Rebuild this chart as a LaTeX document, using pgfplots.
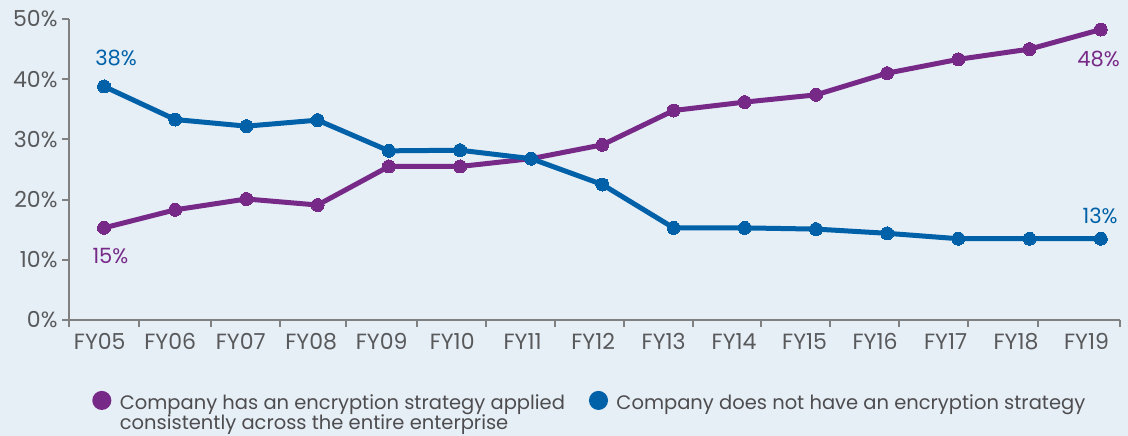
\documentclass[border=0pt]{standalone}
\usepackage{fontspec}
\setmainfont{Poppins}
\usepackage{pgfplots}
\pgfplotsset{compat=1.18}
\definecolor{bg}{RGB}{230,238,246}
\definecolor{cpurple}{RGB}{119,41,136}
\definecolor{cblue}{RGB}{0,97,168}
\definecolor{axgray}{RGB}{128,128,128}
\definecolor{txtgray}{RGB}{88,89,91}
\definecolor{legtxt}{RGB}{77,77,79}
\begin{document}
\begin{tikzpicture}
\fill[bg] (0pt,0pt) rectangle (1128pt,436pt);
\begin{axis}[
  at={(69pt,116pt)}, anchor=south west,
  scale only axis, width=1051pt, height=301pt,
  xmin=-0.492, xmax=14.27, ymin=0, ymax=50,
  clip=false,
  axis lines*=left,
  axis line style={axgray, line width=2pt},
  every tick/.style={axgray, line width=2pt},
  major tick length=7pt,
  tick align=outside,
  ytick={0,10,20,30,40,50},
  yticklabels={0\%,10\%,20\%,30\%,40\%,50\%},
  yticklabel style={font=\fontsize{22}{22}\selectfont, text=txtgray, xshift=-1pt},
  xtick={-0.492,0.492,1.503,2.472,3.399,4.396,5.365,6.334,7.303,8.272,9.228,10.197,11.166,12.135,13.118,14.27},
  xticklabels={},
  extra x ticks={-0.06,0.93,1.92,2.91,3.90,4.89,5.88,6.87,7.86,8.85,9.84,10.83,11.82,12.81,13.80},
  extra x tick labels={FY05,FY06,FY07,FY08,FY09,FY10,FY11,FY12,FY13,FY14,FY15,FY16,FY17,FY18,FY19},
  extra x tick style={major tick length=0pt, xticklabel style={yshift=-10pt}},
  xticklabel style={font=\fontsize{22}{22}\selectfont, text=txtgray},
  legend style={at={(0.022,-0.235)}, anchor=north west, draw=none, fill=none, inner sep=0pt,
    font=\fontsize{19.5}{20}\selectfont, text=legtxt,
    /tikz/every even column/.append style={column sep=22pt},
    nodes={inner sep=2pt}},
  legend columns=2,
  legend cell align=left,
  legend image code/.code={\fill[#1] (5pt,2pt) circle (7pt); \path[draw=none,fill=none] (0pt,0pt) -- (21pt,0pt);},
]
\addplot[cpurple, line width=5pt, mark=*, mark size=6.5pt, mark options={solid, fill=cpurple, draw=cpurple, line width=0pt}]
coordinates {(0,15.3)(1,18.3)(2,20.1)(3,19.1)(4,25.5)(5,25.5)(6,26.8)(7,29.1)(8,34.8)(9,36.2)(10,37.4)(11,41.0)(12,43.3)(13,45.0)(14,48.25)};
\addlegendentry{\begin{tabular}[t]{@{}l@{}}Company has an encryption strategy applied\\[0pt]consistently across the entire enterprise\end{tabular}}
\addplot[cblue, line width=5pt, mark=*, mark size=6.5pt, mark options={solid, fill=cblue, draw=cblue, line width=0pt}]
coordinates {(0,38.8)(1,33.3)(2,32.2)(3,33.2)(4,28.1)(5,28.2)(6,26.8)(7,22.5)(8,15.3)(9,15.3)(10,15.1)(11,14.4)(12,13.5)(13,13.5)(14,13.5)};
\addlegendentry{Company does not have an encryption strategy}
\node[cblue, font=\fontsize{21}{21}\selectfont] at (axis cs:0.17,43.45) {38\%};
\node[cpurple, font=\fontsize{21}{21}\selectfont] at (axis cs:0.09,10.7) {15\%};
\node[cpurple, font=\fontsize{21}{21}\selectfont] at (axis cs:13.97,43.4) {48\%};
\node[cblue, font=\fontsize{21}{21}\selectfont] at (axis cs:13.99,17.3) {13\%};
\end{axis}
\end{tikzpicture}
\end{document}
